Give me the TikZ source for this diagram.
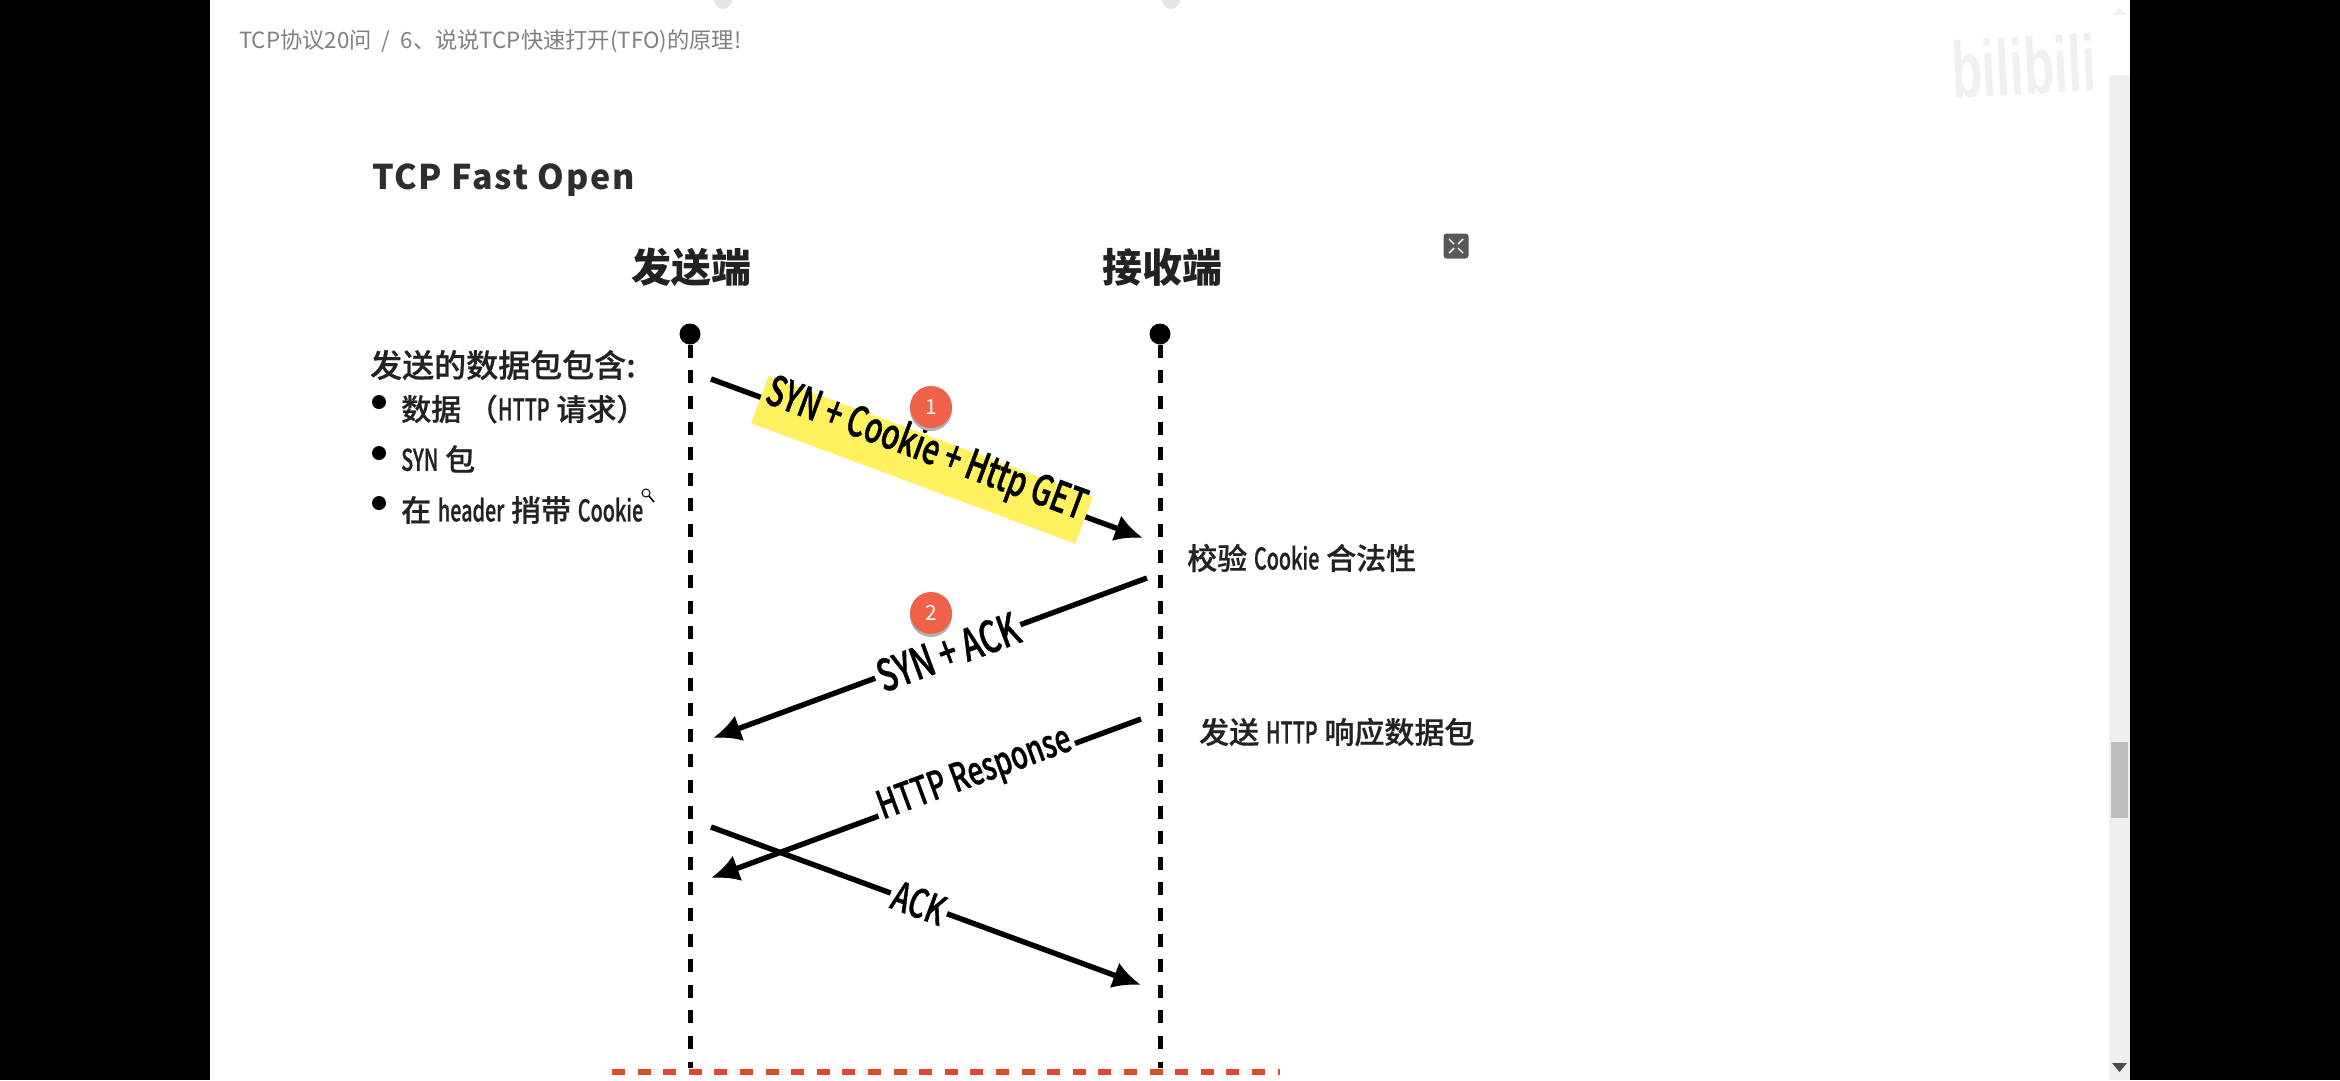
\documentclass[tikz,border=0pt]{standalone}
\usepackage{fontspec}
\usetikzlibrary{arrows.meta}
\setmainfont{Noto Sans CJK SC}
\newfontfamily\midfont[FakeBold=0.6]{Noto Sans CJK SC Medium}
\newfontfamily\titlefont[LetterSpace=5]{Noto Sans CJK SC}
\newfontfamily\condfont[FakeStretch=0.66,FakeBold=0.6]{Noto Sans CJK SC Medium}
\newfontfamily\labelfont[FakeStretch=0.7,FakeBold=0.9]{Noto Sans CJK SC Medium}
\newfontfamily\wmfont[FakeStretch=0.62]{Liberation Sans}
\newcommand{\fs}[1]{\fontsize{#1}{#1}\selectfont}
\definecolor{inkgray}{HTML}{222222}
\definecolor{hlyellow}{HTML}{FFF160}
\definecolor{badgered}{HTML}{F0614A}
\definecolor{linered}{HTML}{E0492F}
\definecolor{barback}{HTML}{EFEFEF}
\tikzset{
	lifeline/.style={line width=5pt, dash pattern=on 13pt off 12.6pt, black},
	msg/.style={line width=5.4pt, -{Latex[length=28pt,width=27pt]}, black},
	msglabel/.style={inner sep=3pt, rotate=#1},
	sidetext/.style={anchor=west, inner sep=0pt, text=inkgray, font=\midfont\fs{30}},
	badge/.style={circle, fill=badgered, minimum size=42pt, inner sep=0pt, text=white, font=\itshape\fs{21}},
	bulletdot/.style={circle, fill=black, minimum size=14pt, inner sep=0pt},
	enddot/.style={circle, fill=black, minimum size=21pt, inner sep=0pt},
}
\begin{document}
\begin{tikzpicture}[x=1pt,y=-1pt]
	\clip (0, 0) rectangle (2340, 1080);
	%%%%% PAGE %%%%%
	\fill[black] (0, 0) rectangle (2340, 1080);
	\fill[white] (210, 0) rectangle (2130, 1080);
	\fill[barback] (2109, 75) rectangle (2130, 1080);
	\fill[black!26] (2111, 742) rectangle (2128, 818);
	\fill[black!70] (2112, 1063) -- (2127, 1063) -- (2119.5, 1072) -- cycle;
	\fill[black!6] (2112, 15) -- (2127, 15) -- (2119.5, 8) -- cycle;
	\fill[black!10] (723, 0) ellipse (9 and 9);
	\fill[black!10] (1171, 0) ellipse (9 and 9);
	
	\node[anchor=west, inner sep=0pt, text=black!50, font=\fs{22.3}] (crumb) at (239, 41) {TCP协议20问 \ / \ 6、说说TCP快速打开(TFO)的原理!};
	\node[anchor=west, inner sep=0pt, text=black!6, font=\wmfont\bfseries\fs{80}, rotate=3] (wm) at (1952, 70) {bilibili};
	\node[anchor=west, inner sep=0pt, text=black!82, font=\titlefont\bfseries\fs{34}] (title) at (372, 180) {TCP Fast Open};
	
	%%%%% ENDS %%%%%
	\node[font=\bfseries\fs{40}, text=inkgray] (sender) at (691, 267) {发送端};
	\node[font=\bfseries\fs{40}, text=inkgray] (receiver) at (1162, 267) {接收端};
	\node[enddot] (sdot) at (690, 334) {};
	\node[enddot] (rdot) at (1160, 334) {};
	\coordinate (send) at (690, 1068);
	\coordinate (rend) at (1160, 1068);
	\draw[lifeline] (sdot) -- (send);
	\draw[lifeline] (rdot) -- (rend);
	\draw[line width=6pt, color=linered, dash pattern=on 13pt off 12.6pt] (612, 1072) -- (1280, 1072);
	
	%%%%% LEFT LIST %%%%%
	\node[sidetext, font=\midfont\fs{32}] (head) at (370, 365) {发送的数据包包含:};
	\node[bulletdot] (b1) at (379, 402) {};
	\node[bulletdot] (b2) at (379, 453) {};
	\node[bulletdot] (b3) at (379, 503) {};
	\node[sidetext] (t1) at (401, 409) {数据 （{\condfont HTTP} 请求）};
	\node[sidetext] (t2) at (401, 459) {{\condfont SYN} 包};
	\node[sidetext] (t3) at (401, 510) {在 {\condfont header} 捎带 {\condfont Cookie}};
	
	%%%%% cursor %%%%%
	\draw[line width=1pt, fill=white] (646, 493) circle (4);
	\draw[line width=1.6pt] (649, 496) -- (654, 502);
	
	%%%%% MESSAGES %%%%%
	\coordinate (s1) at (711, 379);
	\coordinate (t1end) at (1143, 538);
	\coordinate (s2) at (1147, 578);
	\coordinate (t2end) at (713, 738);
	\coordinate (s3) at (1141, 719);
	\coordinate (t3end) at (711, 878);
	\coordinate (s4) at (711, 827);
	\coordinate (t4end) at (1141, 985);
	\draw[msg] (s1) -- (t1end);
	\draw[msg] (s2) -- (t2end);
	\draw[msg] (s3) -- (t3end);
	\draw[msg] (s4) -- (t4end);
	
	\node[fill=hlyellow, rotate=-20.4, minimum width=346pt, minimum height=50pt, inner sep=0pt] (hlbar) at (922, 460) {};
	\node[msglabel=-20.4, font=\labelfont\fs{42}] (syn) at (926, 450) {SYN + Cookie + Http GET};
	\node[msglabel=20.2, fill=white, font=\labelfont\fs{44}] (synack) at (948, 652) {SYN + ACK};
	\node[msglabel=20.2, fill=white, font=\labelfont\fs{39}] (resp) at (975, 775) {HTTP Response};
	\node[msglabel=-20.2, fill=white, font=\labelfont\fs{40}] (ack) at (919, 903) {ACK};
	
	\fill[black!30] (931, 410) circle (21);
	\node[badge] (one) at (931, 407) {1};
	\fill[black!30] (931, 616) circle (21);
	\node[badge] (two) at (931, 613) {2};
	
	%%%%% RIGHT TEXT %%%%%
	\node[sidetext] (check) at (1187, 558) {校验 {\condfont Cookie} 合法性};
	\node[sidetext] (reply) at (1199, 732) {发送 {\condfont HTTP} 响应数据包};
	
	%%%%% icon %%%%%
	\node[fill=black!65, rounded corners=3pt, minimum size=25pt, inner sep=0pt] (zoomicon) at (1456, 246) {};
	\draw[white, line width=1.4pt] (1449, 239) -- (1454, 244) (1463, 239) -- (1458, 244) (1449, 253) -- (1454, 248) (1463, 253) -- (1458, 248);
\end{tikzpicture}
\end{document}
